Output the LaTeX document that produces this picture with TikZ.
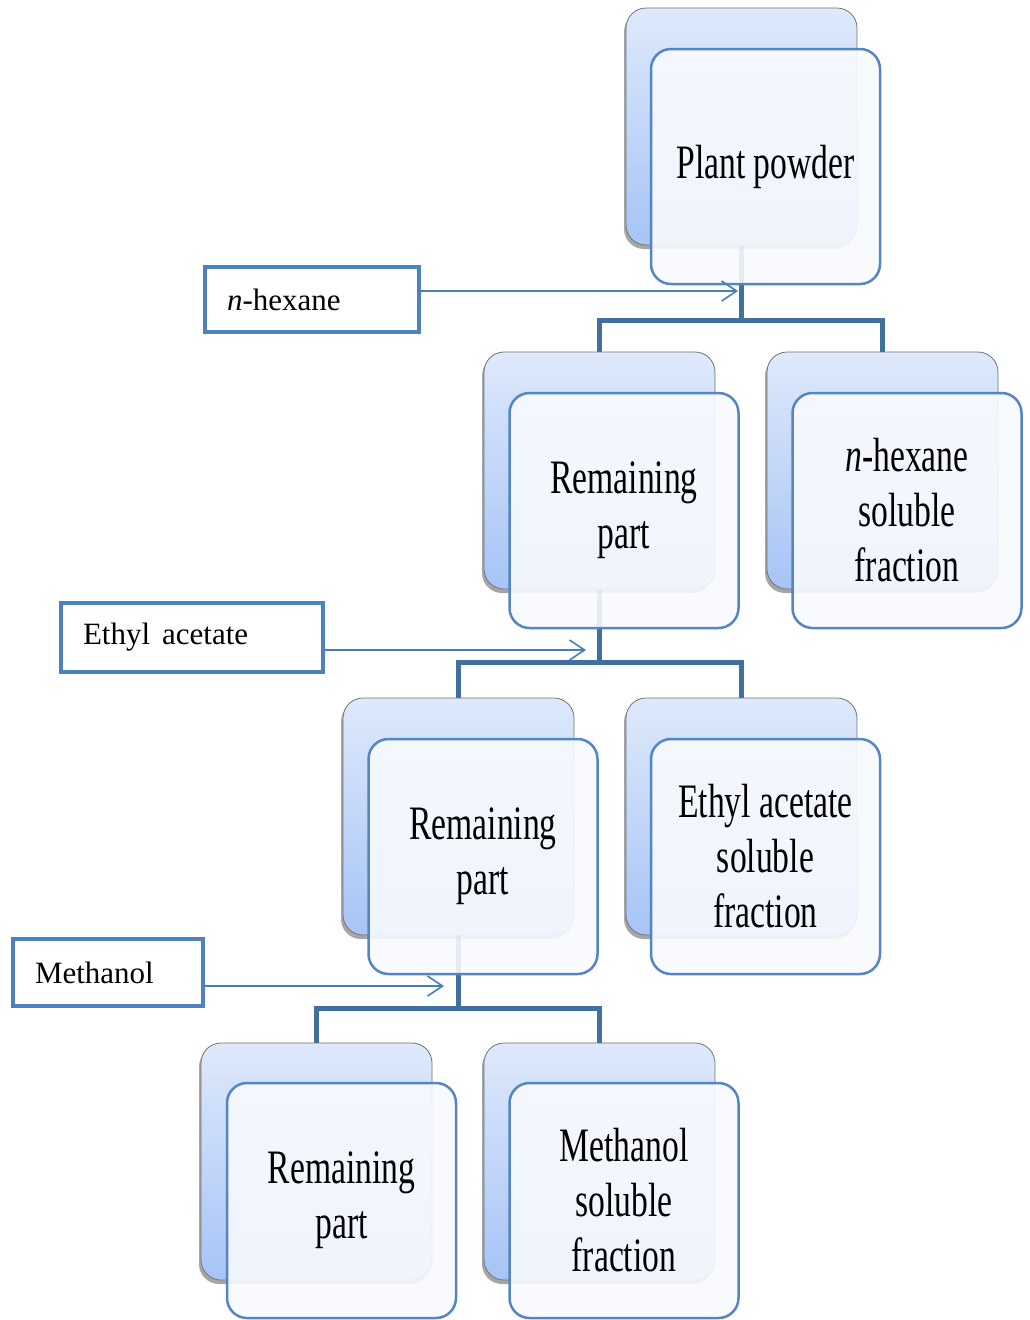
\documentclass[tikz,border=0pt]{standalone}
\usepackage{fontspec}
\setmainfont{Liberation Serif}
\newfontfamily\condfont[FakeStretch=0.7]{Liberation Serif}
\usetikzlibrary{shadows,arrows.meta}
\definecolor{backtop}{HTML}{DEE9FB}
\definecolor{backbot}{HTML}{A6C4F6}
\definecolor{frontfill}{HTML}{F8FAFE}
\definecolor{frontborder}{HTML}{5585C2}
\definecolor{conncol}{HTML}{41709F}
\definecolor{lblcol}{HTML}{4F81BD}
\definecolor{arrcol}{HTML}{4A7EBB}
\pgfdeclarelayer{bg}
\pgfsetlayers{bg,main}
\begin{document}
\begin{tikzpicture}[x=1pt,y=-1pt,
  backbox/.style={draw=black!55, line width=0.8pt, rounded corners=20pt,
    top color=backtop, bottom color=backbot, minimum width=231pt,
    minimum height=237pt, anchor=north west, inner sep=0pt, outer sep=0pt,
    drop shadow={shadow xshift=-2pt, shadow yshift=-4pt, opacity=0.35, fill=black}},
  frontbox/.style={draw=frontborder, line width=2.5pt, rounded corners=20pt,
    fill=frontfill, fill opacity=0.9, text opacity=1, minimum width=229pt,
    minimum height=235pt, inner sep=0pt, outer sep=0pt, align=center,
    font=\condfont\fontsize{48}{55}\selectfont, anchor=north west},
  conn/.style={draw=conncol, line width=5pt},
  lbl/.style={draw=lblcol, line width=4pt, anchor=north west, inner xsep=22pt,
    inner ysep=0pt, outer sep=0pt, align=left, fill=white,
    font=\fontsize{31}{36}\selectfont},
  arr/.style={draw=arrcol, line width=1.6pt,
    -{Straight Barb[length=15pt,width=20pt,line width=1.6pt]}}
]
\begin{pgfonlayer}{bg}
\fill[white] (0,0) rectangle (1029,1320);
\end{pgfonlayer}
\useasboundingbox (0,0) rectangle (1029,1320);

% back boxes
\node[backbox] (A0) at (626,8) {};
\node[backbox] (B1) at (484,352) {};
\node[backbox] (B2) at (767,352) {};
\node[backbox] (C1) at (343,698) {};
\node[backbox] (C2) at (626,698) {};
\node[backbox] (D1) at (201,1043) {};
\node[backbox] (D2) at (484,1043) {};

% front boxes
\node[frontbox] (A0f) at (651,49) {Plant powder};
\node[frontbox] (B1f) at (509.5,393) {Remaining\\part};
\node[frontbox] (B2f) at (792.5,393) {\textit{n}-hexane\\soluble\\fraction};
\node[frontbox] (C1f) at (368.5,739) {Remaining\\part};
\node[frontbox] (C2f) at (651,739) {Ethyl acetate\\soluble\\fraction};
\node[frontbox] (D1f) at (227,1083) {Remaining\\part};
\node[frontbox] (D2f) at (509.5,1083) {Methanol\\soluble\\fraction};

% connectors
\coordinate (j1) at (741.5,320);
\coordinate (j2) at (599.5,662);
\coordinate (j3) at (458.5,1008);
\begin{pgfonlayer}{bg}
\draw[conn] (A0.south) -- (j1) -| (B1.north);
\draw[conn] (j1) -| (B2.north);
\draw[conn] (B1.south) -- (j2) -| (C1.north);
\draw[conn] (j2) -| (C2.north);
\draw[conn] (C1.south) -- (j3) -| (D1.north);
\draw[conn] (j3) -| (D2.north);
\end{pgfonlayer}

% solvent labels
\node[lbl, text width=170pt, minimum height=65pt] (L1) at (205,267) {\textit{n}-hexane};
\node[lbl, text width=218pt, minimum height=69pt] (L2) at (61,603) {Ethyl\hspace{12pt}acetate};
\node[lbl, text width=146pt, minimum height=67pt] (L3) at (13,939) {Methanol};

\coordinate (a1) at (738,291);
\coordinate (a2) at (586,650);
\coordinate (a3) at (444,986);
\draw[arr] (L1.east |- a1) -- (a1);
\draw[arr] (L2.east |- a2) -- (a2);
\draw[arr] (L3.east |- a3) -- (a3);
\end{tikzpicture}
\end{document}
